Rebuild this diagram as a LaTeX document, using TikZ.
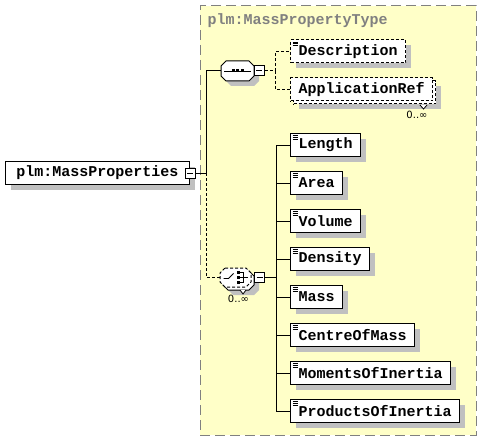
\documentclass[tikz,border=0pt]{standalone}
\usepackage{fontspec}
\setmonofont{Liberation Mono}
\newfontfamily\occfont{DejaVu Sans}
\usepackage{tikz}
\usetikzlibrary{shadows,positioning}
\definecolor{typeyellow}{RGB}{255,255,200}
\definecolor{typegray}{RGB}{128,128,128}
\definecolor{shadowgray}{RGB}{192,192,192}
\newcommand{\elemfont}{\fontsize{15}{18}\selectfont\ttfamily\bfseries}

\begin{document}
\begin{tikzpicture}[
    x=1pt, y=-1pt,
    line width=1pt,
    node distance=14pt,
    base/.style={rectangle, draw, fill=white, minimum height=23pt, inner xsep=8pt, inner ysep=0pt, font=\elemfont},
    shade/.style={drop shadow={shadow xshift=5pt, shadow yshift=-5pt, fill=shadowgray, opacity=1}},
    multishade/.style={drop shadow={shadow xshift=8pt, shadow yshift=-8pt, fill=shadowgray, opacity=1},
        copy shadow={shadow xshift=3pt, shadow yshift=-3pt}},
    elem/.style={base, shade},
    multi/.style={base, multishade},
    docicon/.style={path picture={
        \foreach \k in {2,3.7,5.4}
            \draw[line width=0.7pt, solid] ([xshift=2pt, yshift=-\k pt]path picture bounding box.north west) -- ++(5pt,0);}},
    opt/.style={dash pattern=on 3pt off 2pt},
    comp/.style={rectangle, inner sep=0pt, outer sep=0pt},
    octagon/.style={insert path={
        ([xshift=5pt]#1.north west) -- ([xshift=-5pt]#1.north east) -- ([yshift=-5pt]#1.north east)
        -- ([yshift=5pt]#1.south east) -- ([xshift=-5pt]#1.south east) -- ([xshift=5pt]#1.south west)
        -- ([yshift=5pt]#1.south west) -- ([yshift=-5pt]#1.north west) -- cycle}},
    minus/.style={rectangle, draw, fill=white, minimum size=10pt, inner sep=0pt,
        path picture={\draw ([xshift=2pt]path picture bounding box.west) -- ([xshift=-2pt]path picture bounding box.east);}},
    occ/.style={font=\occfont\fontsize{10}{12}\selectfont, inner sep=0pt},
    typebox/.style={rectangle, draw=typegray, fill=typeyellow, dash pattern=on 10pt off 5pt, anchor=north west}
]
    \useasboundingbox (0,0) rectangle (481,441);

    % Complex type frame
    \node[typebox, minimum width=276, minimum height=429] (mpt) at (199.5,5.5) {};
    \node[font=\elemfont, text=typegray, anchor=base west, inner sep=0pt] (title) at (207,25) {plm:MassPropertyType};

    % Global element
    \node[elem, minimum width=184, anchor=north west] (mp) at (5,161) {plm:MassProperties};
    \node[minus] (mpm) at (mp.east) {};
    \coordinate (jn) at ([xshift=11pt]mpm.east);

    % Sequence compositor
    \node[comp, minimum width=33, minimum height=20] (seq) at (237.5,71) {};
    \draw[fill=white, shade] [octagon=seq];
    \draw[line width=0.8pt] ([xshift=3pt]seq.west) -- ([xshift=-3pt]seq.east);
    \foreach \dx in {-4.5,0,4.5}
        \fill ([shift={({\dx-1.5},-1.5)}]seq.center) rectangle ++(3,3);
    \node[minus, right=-0.5pt of seq] (seqm) {};
    \coordinate (seqj) at ([xshift=11pt]seqm.east);

    % Optional children
    \node[elem, docicon, opt, anchor=north west] (desc) at (290,39.5) {Description};
    \node[multi, opt, anchor=north west] (appref) at (290,77.5) {ApplicationRef};
    \draw[fill=white, line width=0.8pt] ([shift={(-13,3.5)}]appref.south east) -- ++(3.5,4) -- ++(3.5,-4);
    \node[occ, below left=9pt and 5pt of appref.south east] (apprefocc) {0..∞};

    % Choice compositor
    \node[comp, minimum width=31, minimum height=19] (ch) at (235.5,277.5) {};
    \draw[fill=white, opt, multishade] [octagon=ch];
    \draw[line width=0.8pt] ([shift={(-12,1)}]ch.center) -- ++(5,0) -- ++(5,-5);
    \foreach \dy in {-5,0,5}
        \fill ([shift={(1.5,{\dy-1.5})}]ch.center) rectangle ++(3,3);
    \draw[line width=0.8pt] ([shift={(4.5,-5)}]ch.center) -| ([shift={(7.5,5)}]ch.center) -- ++(-3,0);
    \draw[line width=0.8pt] ([shift={(4.5,0)}]ch.center) -- ([shift={(12,0)}]ch.center);
    \draw[fill=white, line width=0.8pt] ([shift={(4.5,3)}]ch.south) -- ++(3,4) -- ++(3,-4);
    \node[occ, below=8pt of ch.south, xshift=3pt] (chocc) {0..∞};
    \node[minus, right=3pt of ch] (chm) {};
    \coordinate (chj) at ([xshift=11pt]chm.east);

    % Choice children
    \node[elem, docicon, anchor=north west] (len) at (290,133) {Length};
    \node[elem, docicon, below=of len.south west, anchor=north west] (area) {Area};
    \node[elem, docicon, below=of area.south west, anchor=north west] (vol) {Volume};
    \node[elem, docicon, below=of vol.south west, anchor=north west] (dens) {Density};
    \node[elem, docicon, below=of dens.south west, anchor=north west] (mass) {Mass};
    \node[elem, docicon, below=of mass.south west, anchor=north west] (com) {CentreOfMass};
    \node[elem, docicon, below=of com.south west, anchor=north west] (moi) {MomentsOfInertia};
    \node[elem, docicon, below=of moi.south west, anchor=north west] (poi) {ProductsOfInertia};

    % Connectors
    \draw (mpm) -- (jn);
    \draw (jn) |- (seq.west);
    \draw[opt] (jn) |- (ch.west);
    \draw[opt] (seqm) -- (seqj);
    \foreach \e in {desc,appref}
        \draw[opt] (seqj) |- (\e.west);
    \draw (chm) -- (chj);
    \foreach \e in {len,area,vol,dens,mass,com,moi,poi}
        \draw (chj) |- (\e.west);
\end{tikzpicture}
\end{document}
